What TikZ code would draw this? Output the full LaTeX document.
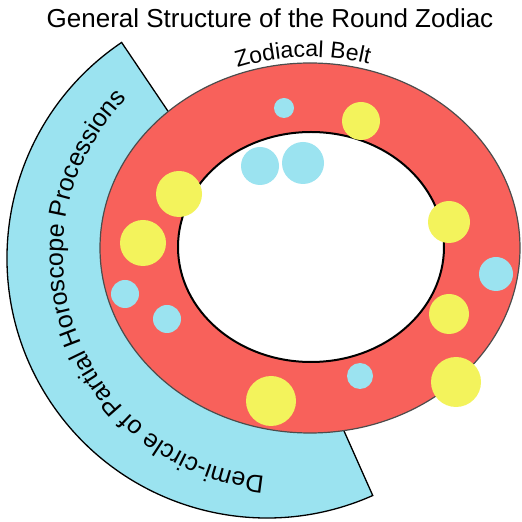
\documentclass[tikz,border=0pt]{standalone}
\usepackage{fontspec}
\setmainfont{Liberation Sans}
\usetikzlibrary{calc,decorations.text}
\definecolor{beltred}{HTML}{F8615B}
\definecolor{demiblue}{HTML}{9BE3F0}
\definecolor{dotyellow}{HTML}{F3F35C}
\definecolor{dotblue}{HTML}{9BE3F0}
\tikzset{
  yellowdot/.style={fill=dotyellow},
  bluedot/.style={fill=dotblue},
}

\begin{document}
\begin{tikzpicture}[x=1pt,y=1pt]
    \useasboundingbox (0,0) rectangle (522,522);
    \coordinate (demic) at (267,264);
    \coordinate (beltc) at (310,274);
    \coordinate (holec) at (311,275);
    \coordinate (textc) at (285,267);

    % demi-circle behind the belt
    \filldraw[fill=demiblue,draw=black,line width=1.3pt]
      ($(demic)+(124:260)$) arc[start angle=124,end angle=294,radius=260]
      -- ($(demic)+(294:150)$) arc[start angle=294,end angle=124,radius=150] -- cycle;

    % zodiacal belt
    \filldraw[fill=beltred,draw=black!70,line width=1.2pt] (beltc) ellipse[x radius=210,y radius=185];
    \filldraw[fill=white,draw=black,line width=2pt] (holec) ellipse[x radius=133,y radius=115];

    \foreach \x/\y/\r in {361/401/19,449/300/21,179/328/23,143/279/23,449/208/20,456/140/25,271/121/25}
      \fill[yellowdot] (\x,\y) circle[radius=\r];
    \foreach \x/\y/\r in {284/414/10,260/356/19,303/359/21,496/248/17,125/228/14,167/203/14,360/146/13}
      \fill[bluedot] (\x,\y) circle[radius=\r];

    \node[font=\fontsize{26}{30}\selectfont,anchor=base] (title) at (270,494) {General Structure of the Round Zodiac};
    \path[decorate,decoration={text along path,text align=center,
        text={|\fontsize{23}{28}\selectfont|Zodiacal Belt}}]
      ($(beltc)+(132:216 and 191)$) arc[start angle=132,end angle=52,x radius=216,y radius=191];
    \path[decorate,decoration={text along path,text align=center,
        text={|\fontsize{25}{30}\selectfont|Demi-circle of Partial Horoscope Processions}}]
      ($(textc)+(266:222)$) arc[start angle=266,end angle=134,radius=222];
\end{tikzpicture}
\end{document}
